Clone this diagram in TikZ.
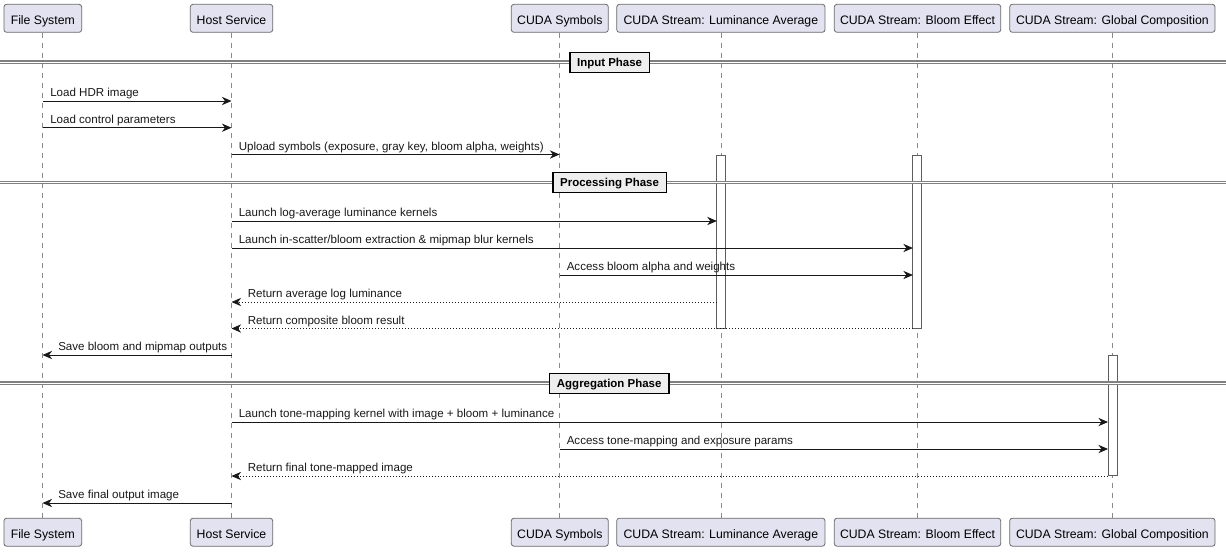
\documentclass[tikz,border=0pt]{standalone}
\usepackage{fontspec}
\setmainfont{Liberation Sans}
\usetikzlibrary{arrows.meta}
\definecolor{partfill}{HTML}{E2E2F0}
\definecolor{partdraw}{HTML}{6A6A6A}
\definecolor{lifegray}{HTML}{8A8A8A}
\definecolor{arrowcol}{HTML}{181818}
\definecolor{bargray}{HTML}{5E5E5E}
\definecolor{sepgray}{HTML}{808080}
\definecolor{sepfill}{HTML}{EEEEEE}
\begin{document}
\begin{tikzpicture}[x=0.75pt,y=-0.75pt,
  part/.style={draw=partdraw, fill=partfill, rounded corners=2pt, minimum height=21pt,
    inner sep=0pt, text height=9pt, text depth=0pt, font=\fontsize{9.2}{11}\selectfont, line width=0.6pt},
  life/.style={draw=lifegray, dash pattern=on 3.75pt off 3.75pt, line width=0.5pt},
  msg/.style={draw=arrowcol, line width=0.6pt, -{Stealth[length=7.2pt,width=6.2pt,inset=2.3pt]}},
  ret/.style={msg, dash pattern=on 0.75pt off 1.5pt},
  lbl/.style={font=\fontsize{8.67}{10}\selectfont, inner sep=0pt, anchor=base west, text=arrowcol},
  actbar/.style={draw=bargray, fill=white, line width=0.75pt, minimum width=6.75pt, inner sep=0pt},
  sepline/.style={draw=sepgray, line width=0.8pt, double=white, double distance=1.2pt},
  seplbl/.style={draw=black, fill=sepfill, line width=1.1pt, text height=6.5pt, text depth=0pt,
    font=\bfseries\fontsize{8.6}{10}\selectfont, inner xsep=5.5pt, inner ysep=0pt, minimum height=15pt}
]
\useasboundingbox (0,0) rectangle (1226,551);

% participants (top)
\node[part, minimum width=58.3pt]  (fs) at (42.8,18.3)   {File System};
\node[part, minimum width=61.8pt]  (hs) at (231.5,18.3)  {Host Service};
\node[part, minimum width=72.75pt] (cs) at (559.8,18.3)  {CUDA Symbols};
\node[part, minimum width=156.2pt] (la) at (720.85,18.3) {CUDA Stream: Luminance Average};
\node[part, minimum width=124.8pt] (be) at (917.5,18.3)  {CUDA Stream: Bloom Effect};
\node[part, minimum width=154pt]   (gc) at (1112.35,18.3){CUDA Stream: Global Composition};
% participants (bottom)
\node[part, minimum width=58.3pt]  (fsb) at (42.8,532.2)   {File System};
\node[part, minimum width=61.8pt]  (hsb) at (231.5,532.2)  {Host Service};
\node[part, minimum width=72.75pt] (csb) at (559.8,532.2)  {CUDA Symbols};
\node[part, minimum width=156.2pt] (lab) at (720.85,532.2) {CUDA Stream: Luminance Average};
\node[part, minimum width=124.8pt] (beb) at (917.5,532.2)  {CUDA Stream: Bloom Effect};
\node[part, minimum width=154pt]   (gcb) at (1112.35,532.2){CUDA Stream: Global Composition};

% lifelines
\draw[life] (fs.south) -- (fsb.north);
\draw[life] (hs.south) -- (hsb.north);
\draw[life] (cs.south) -- (csb.north);
\draw[life] (la.south) -- (lab.north);
\draw[life] (be.south) -- (beb.north);
\draw[life] (gc.south) -- (gcb.north);

% activation bars
\node[actbar, minimum height=129.75pt] (bla) at (721.2,241.5) {};
\node[actbar, minimum height=129.75pt] (bbe) at (917.35,241.5) {};
\node[actbar, minimum height=90.2pt]   (bgc) at (1112.5,415.85) {};

% separators
\coordinate (s1l) at (0,62.3);   \coordinate (s1r) at (1226,62.3);
\coordinate (s2l) at (0,182.5);  \coordinate (s2r) at (1226,182.5);
\coordinate (s3l) at (0,383.3);  \coordinate (s3r) at (1226,383.3);
\draw[sepline] (s1l) -- (s1r);
\draw[sepline] (s2l) -- (s2r);
\draw[sepline] (s3l) -- (s3r);
\node[seplbl] (p1) at (609.6,62.3)  {Input Phase};
\node[seplbl] (p2) at (609.6,182.5) {Processing Phase};
\node[seplbl] (p3) at (609.2,383.3) {Aggregation Phase};

% message end points
\coordinate (m1a) at (42.5,101);    \coordinate (m1b) at (231.5,101);
\coordinate (m2a) at (42.5,127.7);  \coordinate (m2b) at (231.5,127.7);
\coordinate (m3a) at (231.5,154.5); \coordinate (m3b) at (559.5,154.5);
\coordinate (m4a) at (231.5,221);   \coordinate (m4b) at (716.8,221);
\coordinate (m5a) at (231.5,248);   \coordinate (m5b) at (912.9,248);
\coordinate (m6a) at (559.5,275);   \coordinate (m6b) at (912.9,275);
\coordinate (m7a) at (716.8,302);   \coordinate (m7b) at (231.5,302);
\coordinate (m8a) at (912.9,328.5); \coordinate (m8b) at (231.5,328.5);
\coordinate (m9a) at (231.5,355);   \coordinate (m9b) at (42.5,355);
\coordinate (m10a) at (231.5,422);  \coordinate (m10b) at (1108,422);
\coordinate (m11a) at (559.5,449);  \coordinate (m11b) at (1108,449);
\coordinate (m12a) at (1108,476);   \coordinate (m12b) at (231.5,476);
\coordinate (m13a) at (231.5,503);  \coordinate (m13b) at (42.5,503);

\draw[msg] (m1a) -- (m1b);
\draw[msg] (m2a) -- (m2b);
\draw[msg] (m3a) -- (m3b);
\draw[msg] (m4a) -- (m4b);
\draw[msg] (m5a) -- (m5b);
\draw[msg] (m6a) -- (m6b);
\draw[ret] (m7a) -- (m7b);
\draw[ret] (m8a) -- (m8b);
\draw[msg] (m9a) -- (m9b);
\draw[msg] (m10a) -- (m10b);
\draw[msg] (m11a) -- (m11b);
\draw[ret] (m12a) -- (m12b);
\draw[msg] (m13a) -- (m13b);

% message labels
\node[lbl] (l1)  at (50,96.5)    {Load HDR image};
\node[lbl] (l2)  at (50,123.2)   {Load control parameters};
\node[lbl] (l3)  at (238.5,150)  {Upload symbols (exposure, gray key, bloom alpha, weights)};
\node[lbl] (l4)  at (238.5,216.5){Launch log-average luminance kernels};
\node[lbl] (l5)  at (238.5,243.5){Launch in-scatter/bloom extraction \& mipmap blur kernels};
\node[lbl] (l6)  at (566.5,270.5){Access bloom alpha and weights};
\node[lbl] (l7)  at (247.5,297.5){Return average log luminance};
\node[lbl] (l8)  at (247.5,324)  {Return composite bloom result};
\node[lbl] (l9)  at (58,350.5)   {Save bloom and mipmap outputs};
\node[lbl] (l10) at (238.5,417.5){Launch tone-mapping kernel with image + bloom + luminance};
\node[lbl] (l11) at (566.5,444.5){Access tone-mapping and exposure params};
\node[lbl] (l12) at (247.5,471.5){Return final tone-mapped image};
\node[lbl] (l13) at (58,498.5)   {Save final output image};
\end{tikzpicture}
\end{document}
